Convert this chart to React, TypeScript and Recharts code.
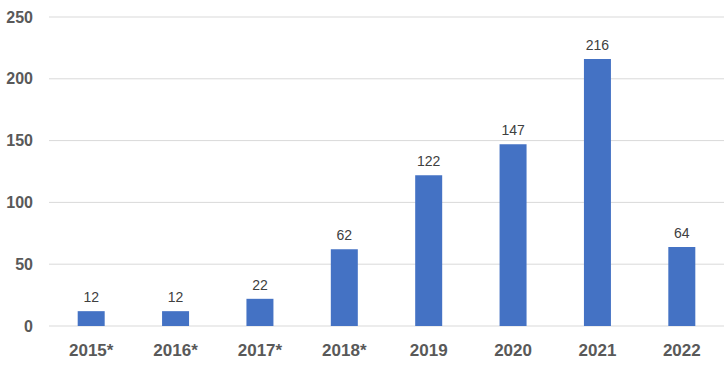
import { BarChart, Bar, XAxis, YAxis, CartesianGrid, LabelList } from 'recharts';

const YEARS = ['2015*', '2016*', '2017*', '2018*', '2019', '2020', '2021', '2022'];
const COUNTS = [12, 12, 22, 62, 122, 147, 216, 64];
const Y_TICKS = [0, 50, 100, 150, 200, 250];

const FONT = '"Liberation Sans", Arial, sans-serif';

export default function App() {
  const data = YEARS.map((year, i) => ({ year, count: COUNTS[i] }));

  return (
    <div style={{ position: 'absolute', left: 0, top: 0, width: 728, height: 373, background: '#fff', fontFamily: FONT }}>
      <BarChart
        width={728}
        height={373}
        data={data}
        margin={{ top: 17, right: 4, bottom: 0, left: 0 }}
        barCategoryGap="34%"
      >
        <CartesianGrid horizontal vertical={false} stroke="#d9d9d9" strokeWidth={1} />
        <XAxis
          dataKey="year"
          axisLine={false}
          tickLine={false}
          height={47}
          tickMargin={12}
          tick={{ fill: '#595959', fontSize: 17, fontWeight: 700, fontFamily: FONT }}
          interval={0}
        />
        <YAxis
          domain={[0, 250]}
          ticks={Y_TICKS}
          width={49}
          axisLine={false}
          tickLine={false}
          tickMargin={10}
          tick={{ fill: '#595959', fontSize: 16, fontWeight: 700, fontFamily: FONT }}
        />
        <Bar dataKey="count" fill="#4472C4" isAnimationActive={false}>
          <LabelList dataKey="count" position="top" offset={9} fill="#404040" fontSize={14} fontFamily={FONT} />
        </Bar>
      </BarChart>
    </div>
  );
}
